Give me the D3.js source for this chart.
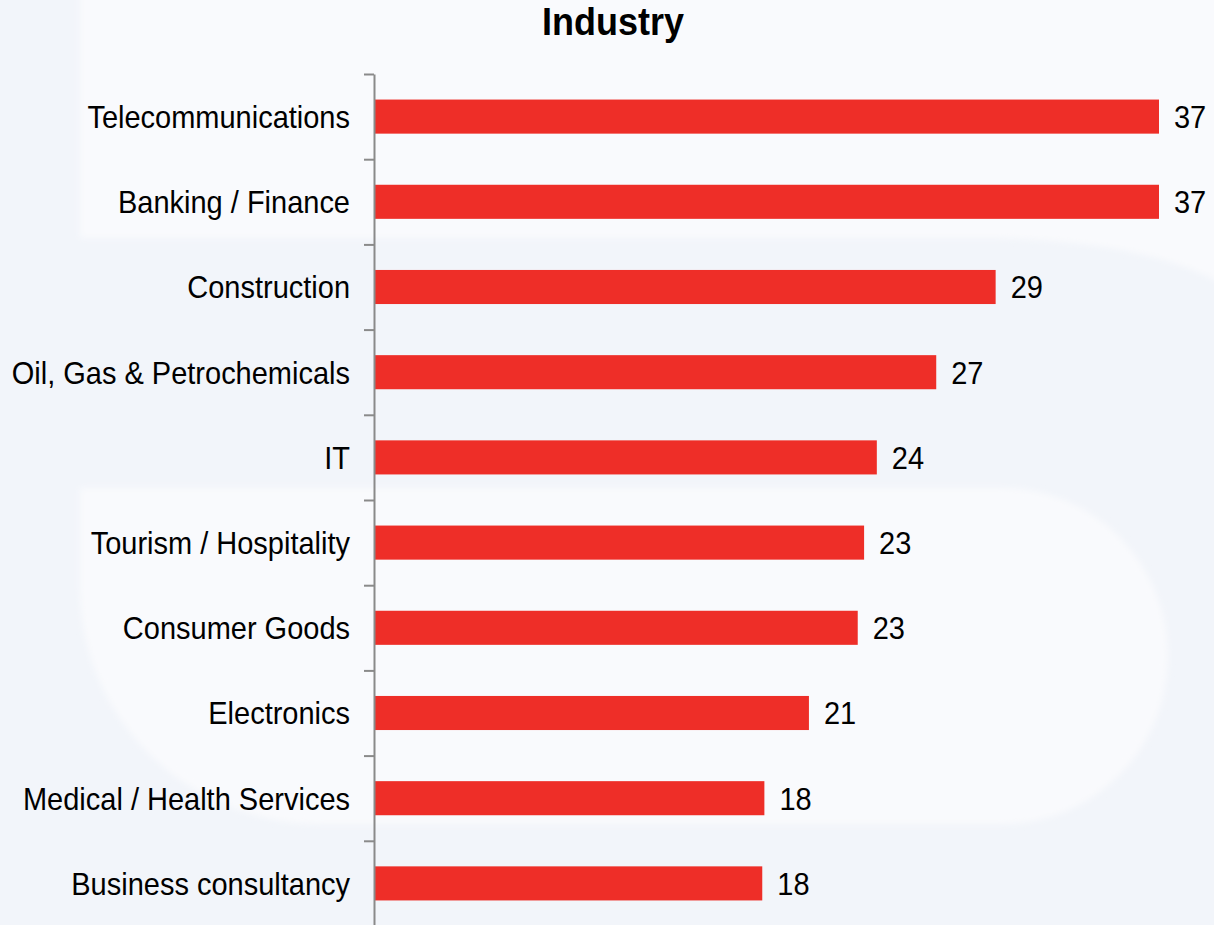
<!DOCTYPE html>
<html>
<head>
<meta charset="utf-8">
<script src="https://cdn.jsdelivr.net/npm/d3@7"></script>
<style>
    html, body { margin: 0; padding: 0; background: #f2f5fa; }
    svg { display: block; }
    text { font-family: "Liberation Sans", Arial, sans-serif; fill: #000; }
</style>
</head>
<body>
<div id="content"></div>
<script>
'use strict';

var categories = [
    'Telecommunications',
    'Banking / Finance',
    'Construction',
    'Oil, Gas & Petrochemicals',
    'IT',
    'Tourism / Hospitality',
    'Consumer Goods',
    'Electronics',
    'Medical / Health Services',
    'Business consultancy'
];

// bar lengths; labels show them rounded
var values = [37.0, 37.0, 29.3, 26.5, 23.7, 23.1, 22.8, 20.5, 18.4, 18.3];

var title = 'Industry';

function run() {
    var width = 1214, height = 925;
    var stretch = 1.1;

    var svg = d3.select('#content')
        .append('svg')
        .attr('width', width)
        .attr('height', height);

    // soft pale shapes in the background
    var defs = svg.append('defs');
    defs.append('filter')
        .attr('id', 'soft')
        .append('feGaussianBlur')
        .attr('stdDeviation', 3);

    svg.append('rect')
        .attr('width', width)
        .attr('height', height)
        .style('fill', '#f2f5fa');

    svg.append('path')
        .attr('d', 'M80,-10 H1224 V285 Q1150,242 1000,238 H80 Z')
        .style('fill', '#f9fafd')
        .attr('filter', 'url(#soft)');

    svg.append('path')
        .attr('d', 'M80,488 H1003 A165,168 0 0 1 1003,824 H320 A240,236 0 0 1 80,588 Z')
        .style('fill', '#f9fafd')
        .attr('filter', 'url(#soft)');

    var axisX = 374;

    var x = d3.scaleLinear()
        .domain([0, 37])
        .range([axisX, 1159]);

    var y = d3.scaleBand()
        .domain(categories)
        .range([74, 926])
        .paddingInner(0.6)
        .paddingOuter(0.3);

    // tick marks sit between the categories
    var edges = d3.scaleLinear()
        .domain([0, categories.length])
        .range([74, 926]);

    var data = categories.map(function (c, i) {
        return { name: c, value: values[i] };
    });

    var chart = svg.append('g');

    chart.selectAll('.bar')
        .data(data)
        .enter()
        .append('rect')
        .attr('class', 'bar')
        .attr('x', x(0))
        .attr('y', function (d) { return y(d.name); })
        .attr('width', function (d) { return x(d.value) - x(0); })
        .attr('height', y.bandwidth())
        .style('fill', '#ee2e28');

    var axis = chart.append('g')
        .attr('transform', 'translate(' + axisX + ' 0)')
        .call(d3.axisLeft(edges)
            .tickValues(d3.range(categories.length + 1))
            .tickSize(10)
            .tickSizeOuter(0)
            .tickFormat(''));
    axis.selectAll('path, line')
        .style('stroke', '#8a8a8a')
        .style('stroke-width', 2);

    var capHalf = 29 * 0.716 * stretch / 2;

    chart.selectAll('.cat')
        .data(data)
        .enter()
        .append('text')
        .attr('class', 'cat')
        .attr('transform', function (d) {
            var cy = y(d.name) + y.bandwidth() / 2 + capHalf;
            return 'translate(' + (axisX - 24) + ' ' + cy + ') scale(1 ' + stretch + ')';
        })
        .style('text-anchor', 'end')
        .style('font-size', '29px')
        .text(function (d) { return d.name; });

    chart.selectAll('.val')
        .data(data)
        .enter()
        .append('text')
        .attr('class', 'val')
        .attr('transform', function (d) {
            var cy = y(d.name) + y.bandwidth() / 2 + capHalf;
            return 'translate(' + (x(d.value) + 15) + ' ' + cy + ') scale(1 ' + stretch + ')';
        })
        .style('font-size', '29px')
        .text(function (d) { return Math.round(d.value); });

    svg.append('text')
        .attr('transform', 'translate(613 35) scale(1 1.1)')
        .style('text-anchor', 'middle')
        .style('font-size', '36px')
        .style('font-weight', 'bold')
        .text(title);
}

document.addEventListener('DOMContentLoaded', run);
</script>
</body>
</html>
